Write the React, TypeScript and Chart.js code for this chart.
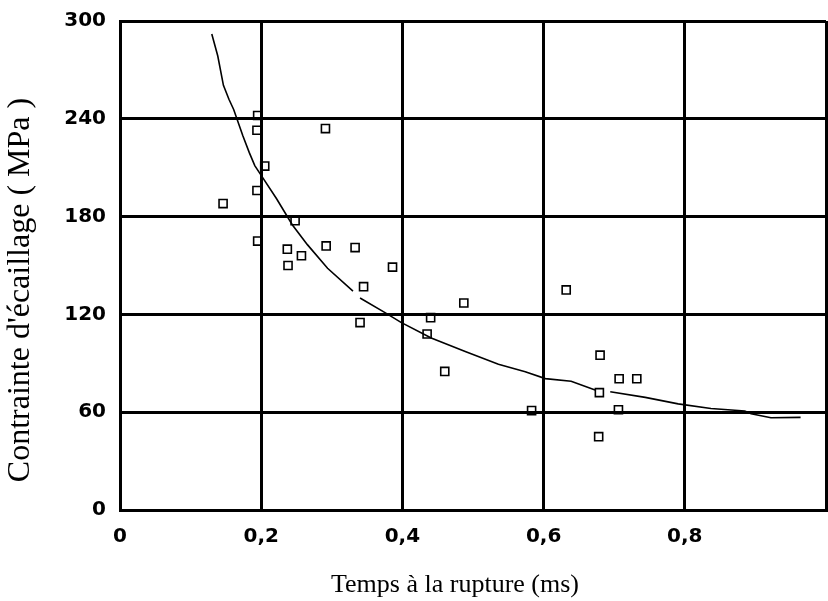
import React, { useEffect, useRef } from 'react';
import { Chart, registerables } from 'chart.js';

Chart.register(...registerables);

// Axis text
const xTitle = 'Temps à la rupture (ms)';
const yTitle = "Contrainte d'écaillage ( MPa )";
const xMin = 0;
const xMax = 1;
const xStep = 0.2;
const yMin = 0;
const yMax = 300;
const yStep = 60;
const xTickLabels: Record<string, string> = { '0': '0', '0.2': '0,2', '0.4': '0,4', '0.6': '0,6', '0.8': '0,8', '1': '' };

// Measured points (time in ms, stress in MPa)
const pointX = [0.146, 0.195, 0.194, 0.205, 0.194, 0.195, 0.248, 0.237, 0.257, 0.238, 0.291, 0.292, 0.333, 0.345, 0.340, 0.386, 0.440, 0.435, 0.460, 0.487, 0.583, 0.632, 0.680, 0.679, 0.707, 0.732, 0.706, 0.678];
const pointY = [188, 242, 233, 211, 196, 165, 177.5, 160, 156, 150, 234, 162, 161, 137, 115, 149, 118, 108, 85, 127, 61, 135, 95, 72, 80.5, 80.5, 61.5, 45];

// Fitted curve (null = break in the drawn line)
const curveX = [0.130, 0.1385, 0.1465, 0.1543, 0.161, 0.174, 0.183, 0.1909, 0.2035, 0.222, 0.244, 0.2654, 0.294, 0.330, 0.335, 0.340, 0.3754, 0.398, 0.4408, 0.489, 0.536, 0.574, 0.6025, 0.639, 0.673, 0.684, 0.6944, 0.744, 0.7906, 0.837, 0.885, 0.894, 0.922, 0.964];
const curveY: (number | null)[] = [292, 278.5, 260.5, 252, 245.7, 229.6, 219.4, 211.3, 203, 190.8, 175, 162.8, 148.3, 134.3, null, 130.1, 121.1, 115.1, 105.5, 97.2, 89.4, 84.8, 80.6, 79, 73.6, null, 72.5, 69.1, 65.1, 62.3, 60.7, 59.1, 56.6, 56.8];

const titlePlugin = {
  id: 'axisTitles',
  afterDraw(chart: any) {
    const ctx = chart.ctx;
    ctx.save();
    ctx.fillStyle = '#000';
    ctx.textAlign = 'center';
    ctx.textBaseline = 'middle';
    ctx.font = '26px "Liberation Serif"';
    ctx.fillText(xTitle, 455, 585);
    ctx.translate(21, 290);
    ctx.rotate(-Math.PI / 2);
    ctx.font = '32px "Liberation Serif"';
    ctx.fillText(yTitle, 0, 0);
    ctx.restore();
  },
};

export default function App() {
  const ref = useRef<HTMLCanvasElement | null>(null);

  useEffect(() => {
    if (!ref.current) return;
    const points = pointX.map((x, i) => ({ x, y: pointY[i] }));
    const curve = curveX.map((x, i) => ({ x, y: curveY[i] }));
    const tickFont = { family: '"DejaVu Sans"', size: 20, weight: 'bold' as const };
    const chart = new Chart(ref.current, {
      type: 'scatter',
      data: {
        datasets: [
          {
            data: curve as any,
            showLine: true,
            borderColor: '#000',
            borderWidth: 1.6,
            pointRadius: 0,
            tension: 0,
            spanGaps: false,
          },
          {
            data: points,
            pointStyle: 'rect',
            pointRadius: 5.7,
            borderColor: '#000',
            backgroundColor: 'rgba(0,0,0,0)',
            pointBorderWidth: 1.6,
            borderWidth: 1.6,
          },
        ],
      },
      options: {
        responsive: false,
        animation: false,
        layout: { autoPadding: false, padding: { top: 21, right: 2, left: 0, bottom: 0 } },
        plugins: { legend: { display: false }, tooltip: { enabled: false } },
        scales: {
          x: {
            type: 'linear',
            min: xMin,
            max: xMax,
            afterFit: (s: any) => { s.height = 91; s.paddingLeft = 0; s.paddingRight = 0; },
            ticks: {
              stepSize: xStep,
              color: '#000',
              font: tickFont,
              padding: 15,
              maxRotation: 0,
              callback: (v: any) => xTickLabels[String(Math.round(Number(v) * 10) / 10)] ?? '',
            },
            grid: { color: '#000', lineWidth: 3, drawTicks: false },
            border: { color: '#000', width: 3 },
          },
          y: {
            type: 'linear',
            min: yMin,
            max: yMax,
            afterFit: (s: any) => { s.width = 120; s.paddingTop = 0; s.paddingBottom = 0; },
            ticks: {
              stepSize: yStep,
              color: '#000',
              font: tickFont,
              padding: 14,
            },
            grid: { color: '#000', lineWidth: 3, drawTicks: false },
            border: { color: '#000', width: 3 },
          },
        },
      },
      plugins: [titlePlugin],
    });
    return () => chart.destroy();
  }, []);

  return (
    <div style={{ position: 'absolute', left: 0, top: 0, width: 828, height: 601, background: '#fff' }}>
      <canvas ref={ref} width={828} height={601} style={{ width: 828, height: 601, display: 'block' }} />
    </div>
  );
}
